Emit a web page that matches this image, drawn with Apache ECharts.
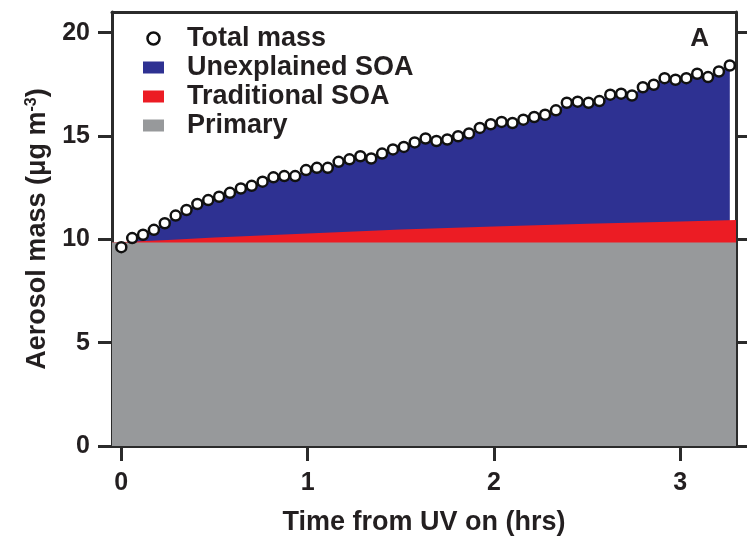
<!DOCTYPE html>
<html>
<head>
<meta charset="utf-8">
<script src="https://cdn.jsdelivr.net/npm/echarts@6/dist/echarts.min.js"></script>
<style>
html,body{margin:0;padding:0;background:#fff;}
#chart{width:747px;height:538px;}
</style>
</head>
<body>
<div id="chart"></div>
<script>
// ---- data ----
// sample times, minutes after UV on
const timeMinutes = [0,3.5,7,10.5,14,17.5,21,24.5,28,31.5,35,38.5,42,45.5,49,52.5,56,59.5,63,66.5,70,73.5,77,80.5,84,87.5,91,94.5,98,101.5,105,108.5,112,115.5,119,122.5,126,129.5,133,136.5,140,143.5,147,150.5,154,157.5,161,164.5,168,171.5,175,178.5,182,185.5,189,192.5,196];
// total aerosol mass (ug m-3)
const totalMass = [9.62,10.06,10.22,10.46,10.78,11.15,11.42,11.71,11.90,12.06,12.25,12.46,12.59,12.79,13.00,13.06,13.06,13.35,13.46,13.46,13.75,13.87,14.02,13.91,14.15,14.35,14.47,14.69,14.88,14.76,14.83,14.99,15.12,15.39,15.57,15.68,15.63,15.79,15.92,16.03,16.24,16.61,16.66,16.61,16.69,17.00,17.05,16.96,17.36,17.48,17.80,17.72,17.80,18.01,17.85,18.12,18.41];
// primary aerosol level and traditional SOA contribution (hours, ug m-3)
const primaryLevel = 9.85;
const soaTime = [-0.05, 0.25, 0.5, 1, 1.5, 2, 2.5, 3, 3.3];
const traditionalSOA = [0, 0.12, 0.24, 0.43, 0.62, 0.77, 0.9, 1.01, 1.08];
const xTicks = [0, 1, 2, 3];
const yTicks = [0, 5, 10, 15, 20];

const names = ['Total mass', 'Unexplained SOA', 'Traditional SOA', 'Primary'];
const colors = {blue: '#2e3192', red: '#ec1c24', gray: '#97999b'};
const FONT = '"Liberation Sans", Arial, Helvetica, sans-serif';
const INK = '#231f20';

const totalData = timeMinutes.map((m, i) => [m / 60, totalMass[i]]);
const redData = soaTime.map((t, i) => [t, primaryLevel + traditionalSOA[i]]);
const grayData = soaTime.map(t => [t, primaryLevel]);

const chart = echarts.init(document.getElementById('chart'), null, {renderer: 'canvas'});
const axisLine = {show: true, onZero: false, lineStyle: {color: '#2b2b2b', width: 3}};
chart.setOption({
  animation: false,
  backgroundColor: '#fff',
  textStyle: {fontFamily: FONT},
  title: {
    text: 'A', right: 38, top: 26, padding: 0,
    textStyle: {fontFamily: FONT, fontSize: 26, fontWeight: 'bold', color: INK}
  },
  grid: {left: 112, right: 11, top: 12, bottom: 92, containLabel: false, outerBoundsMode: 'none'},
  legend: {
    left: 143, top: 24, orient: 'vertical', padding: 0, itemGap: 0,
    itemWidth: 21, itemHeight: 12, selectedMode: false,
    textStyle: {fontFamily: FONT, fontSize: 27, fontWeight: 'bold', color: INK, lineHeight: 29, padding: [0, 0, 0, 18]},
    data: [
      {name: names[0], icon: 'circle', itemStyle: {color: '#fff', borderColor: '#111', borderWidth: 2.5}},
      {name: names[1], icon: 'rect', itemStyle: {color: colors.blue, borderWidth: 0}},
      {name: names[2], icon: 'rect', itemStyle: {color: colors.red, borderWidth: 0}},
      {name: names[3], icon: 'rect', itemStyle: {color: colors.gray, borderWidth: 0}}
    ]
  },
  xAxis: [{
    type: 'value', min: -0.05, max: 3.3, position: 'bottom',
    name: 'Time from UV on (hrs)', nameLocation: 'middle', nameGap: 63,
    nameTextStyle: {fontFamily: FONT, fontSize: 27, fontWeight: 'bold', color: INK},
    axisLine: axisLine,
    axisTick: {show: true, length: 15, lineStyle: {color: '#2b2b2b', width: 3}, customValues: xTicks},
    axisLabel: {margin: 25, fontFamily: FONT, fontSize: 25, fontWeight: 'bold', color: INK, customValues: xTicks},
    splitLine: {show: false}
  }, {
    type: 'value', min: -0.05, max: 3.3, position: 'top',
    axisLine: axisLine, axisTick: {show: false}, axisLabel: {show: false}, splitLine: {show: false}
  }],
  yAxis: [{
    type: 'value', min: 0, max: 21, position: 'left',
    name: 'Aerosol mass (μg m{sup|-3})', nameLocation: 'middle', nameGap: 55, nameRotate: 90,
    nameTextStyle: {fontFamily: FONT, fontSize: 27, fontWeight: 'bold', color: INK,
      rich: {sup: {fontFamily: FONT, fontSize: 16, fontWeight: 'bold', color: INK, padding: [0, 0, 13, 0]}}},
    axisLine: axisLine,
    axisTick: {show: true, length: 14, lineStyle: {color: '#2b2b2b', width: 3}, customValues: yTicks},
    axisLabel: {margin: 22, fontFamily: FONT, fontSize: 25, fontWeight: 'bold', color: INK, customValues: yTicks},
    splitLine: {show: false}
  }, {
    type: 'value', min: 0, max: 21, position: 'right',
    axisLine: axisLine,
    axisTick: {show: true, length: 12, lineStyle: {color: '#2b2b2b', width: 3}, customValues: yTicks},
    axisLabel: {show: false}, splitLine: {show: false}
  }],
  series: [
    {
      name: names[1], type: 'line', data: totalData, symbol: 'none', smooth: false,
      lineStyle: {width: 0}, itemStyle: {color: colors.blue},
      areaStyle: {color: colors.blue, opacity: 1}, z: 1
    },
    {
      name: names[2], type: 'line', data: redData, symbol: 'none',
      lineStyle: {width: 0}, itemStyle: {color: colors.red},
      areaStyle: {color: colors.red, opacity: 1}, z: 2
    },
    {
      name: names[3], type: 'line', data: grayData, symbol: 'none',
      lineStyle: {width: 0}, itemStyle: {color: colors.gray},
      areaStyle: {color: colors.gray, opacity: 1}, z: 3
    },
    {
      name: names[0], type: 'scatter', data: totalData, symbol: 'circle', symbolSize: 10,
      itemStyle: {color: '#fff', borderColor: '#111', borderWidth: 2.5, opacity: 1}, z: 5
    }
  ]
});
</script>
</body>
</html>
